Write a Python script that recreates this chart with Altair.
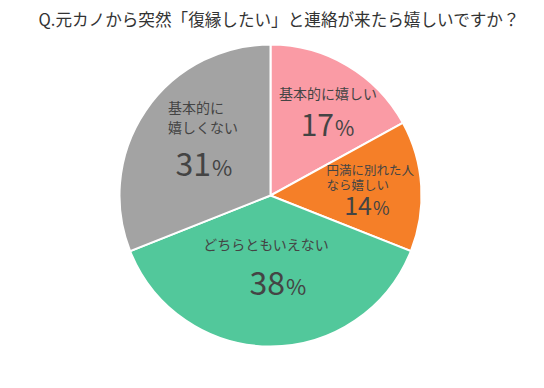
import altair as alt
import pandas as pd

title_text = "Q.元カノから突然「復縁したい」と連絡が来たら嬉しいですか？"
categories = ["基本的に嬉しい", "円満に別れた人なら嬉しい", "どちらともいえない", "基本的に嬉しくない"]
values = [17, 14, 38, 31]
label_text = ["基本的に嬉しい", "円満に別れた人\nなら嬉しい", "どちらともいえない", "基本的に\n嬉しくない"]
colors = ["#FA9BA5", "#F57F28", "#52C89B", "#A3A3A3"]

FONT = "Noto Sans CJK JP"
TXT = "#444444"
CX, CY, R = 262.5, 157.5, 151

df = pd.DataFrame({
    "category": categories,
    "value": values,
    "order": list(range(len(categories))),
    "label": label_text,
    "num": [str(v) for v in values],
})

total = sum(values)
theta_scale = alt.Scale(domain=[0, total])

base = alt.Chart(df).transform_stack(
    stack="value", groupby=[], as_=["v0", "v1"], sort=[alt.SortField("order")]
).transform_calculate(mid="(datum.v0 + datum.v1) / 2")

pie = base.mark_arc(outerRadius=R, stroke="white", strokeWidth=2).encode(
    theta=alt.Theta("v0:Q", scale=theta_scale),
    theta2="v1:Q",
    x=alt.value(CX),
    y=alt.value(CY),
    color=alt.Color("category:N", scale=alt.Scale(domain=categories, range=colors), legend=None),
)

# per-slice label styles: (name radius, dx, dy, align, size, lineHeight), (num radius, dx, dy, numsize, pctsize)
styles = {
    categories[0]: ((112, 0.5, -3.6, "center", 14, 16), (80, 22.8, 9.4, 30, 21)),
    categories[1]: ((55, 1.0, -21.5, "left", 12.5, 15), (105, -3.3, 26.1, 25, 18)),
    categories[2]: ((50, -4.5, 0.5, "center", 14, 16), (92, 14.5, 7.5, 32, 22)),
    categories[3]: ((110, -11.5, -24.7, "left", 14, 20), (70, -1.6, 19.8, 32, 22)),
}

layers = [pie]
for cat in categories:
    (nr, ndx, ndy, nal, nsz, nlh), (pr, pdx, pdy, psz, pcs) = styles[cat]
    sub = base.transform_filter(alt.datum.category == cat)
    enc = dict(theta=alt.Theta("mid:Q", scale=theta_scale), x=alt.value(CX), y=alt.value(CY))
    layers.append(sub.mark_text(radius=nr, dx=ndx, dy=ndy, align=nal, baseline="middle",
                                fontSize=nsz, lineHeight=nlh, lineBreak="\n", font=FONT, color=TXT)
                  .encode(text="label:N", **enc))
    layers.append(sub.mark_text(radius=pr, dx=pdx, dy=pdy, align="right", baseline="alphabetic",
                                fontSize=psz, font=FONT, color=TXT)
                  .encode(text="num:N", **enc))
    layers.append(sub.mark_text(radius=pr, dx=pdx + 1, dy=pdy, align="left", baseline="alphabetic",
                                fontSize=pcs, font=FONT, color=TXT)
                  .encode(text=alt.value("%"), **enc))

chart = alt.layer(*layers).properties(
    width=528,
    height=342,
    autosize=alt.AutoSizeParams(type="none"),
    padding={"top": 30, "left": 0, "right": 0, "bottom": 0},
    title=alt.Title(title_text, fontSize=16.6, font=FONT, color="#333333", fontWeight="normal",
                    anchor="middle", baseline="middle", offset=0, dx=7),
).configure_view(stroke=None).resolve_scale(theta="shared")

chart.save("out.html", embed_options={"renderer": "svg", "actions": False})
